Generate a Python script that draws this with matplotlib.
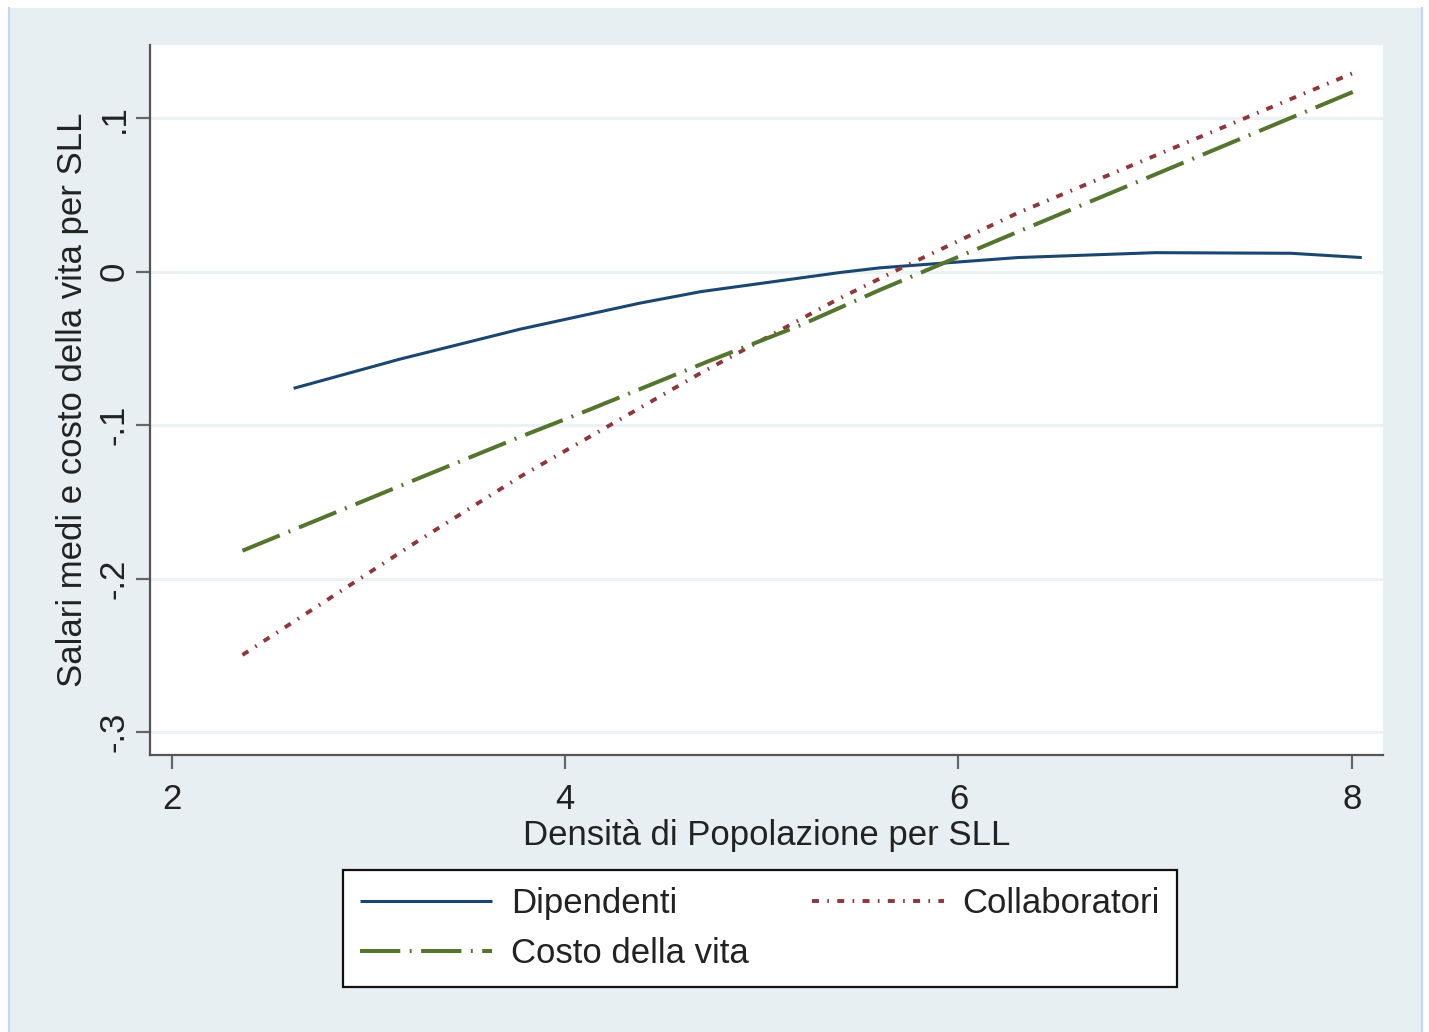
import matplotlib
matplotlib.use('Agg')
import matplotlib.pyplot as plt
from matplotlib.patches import Rectangle
from matplotlib.lines import Line2D

plt.rcParams['font.family'] = ['Liberation Sans', 'DejaVu Sans']
plt.rcParams['lines.scale_dashes'] = False

# fitted curves read along the density axis
dens_dip = [2.62, 3.16, 3.77, 4.38, 4.69, 5.40, 5.60, 6.30, 7.00, 7.69, 8.05]
dipendenti = [-0.0760, -0.0570, -0.0375, -0.0205, -0.0130, -0.0005, 0.0025,
              0.0092, 0.0124, 0.0120, 0.0092]

dens_col = [2.36, 3.26, 3.77, 4.69, 5.38, 5.72, 6.30, 8.03]
collaboratori = [-0.2497, -0.1748, -0.1337, -0.0660, -0.0184, 0.0031, 0.0382, 0.1307]

dens_cos = [2.36, 3.26, 3.77, 4.12, 4.72, 5.20, 5.60, 6.30, 8.04]
costo_vita = [-0.1818, -0.1344, -0.1077, -0.0901, -0.0588, -0.0347, -0.0119,
              0.0259, 0.1190]

x_ticks = [2, 4, 6, 8]
y_ticks = [-0.3, -0.2, -0.1, 0.0, 0.1]
y_tick_labels = ['-.3', '-.2', '-.1', '0', '.1']

W, H = 1429, 1032
BG = '#E8EFF2'
FS = 25

fig = plt.figure(figsize=(W / 100, H / 100), dpi=100, facecolor='white')

# graph region background and its thin blue side borders
fig.patches.append(Rectangle((9 / W, 0), (1421 - 9) / W, (H - 8) / H,
                             transform=fig.transFigure, facecolor=BG,
                             edgecolor='none', zorder=-5))
for xp in (8.5, 1421.5):
    fig.add_artist(Line2D([xp / W, xp / W], [0, (H - 8) / H],
                          transform=fig.transFigure, color='#C2D6F2', lw=1.6,
                          zorder=-4))

ax = fig.add_axes([150 / W, (H - 755) / H, (1383 - 150) / W, (755 - 45) / H])
ax.set_facecolor('white')
ax.set_zorder(1)

ax.plot(dens_dip, dipendenti, color='#1A476F', lw=2.2, label='Dipendenti',
        solid_capstyle='butt', solid_joinstyle='round', zorder=3)
ax.plot(dens_col, collaboratori, color='#90353B', lw=2.8, label='Collaboratori',
        dashes=(5, 6.0, 1.2, 6.0), zorder=3)
ax.plot(dens_cos, costo_vita, color='#55752F', lw=2.9, label='Costo della vita',
        dashes=(29, 6.8, 1.4, 6.8), zorder=3)

ax.set_xlim(1.89, 8.158)
ax.set_ylim(-0.3149, 0.1477)
ax.set_xticks(x_ticks)
ax.set_xticklabels([str(v) for v in x_ticks])
ax.set_yticks(y_ticks)
ax.set_yticklabels(y_tick_labels, rotation=90, va='center')

ax.grid(axis='y', color='#EAF2F3', lw=2.2, zorder=0)
ax.set_axisbelow(True)

for side in ('top', 'right'):
    ax.spines[side].set_visible(False)
for side in ('left', 'bottom'):
    ax.spines[side].set_color('#555555')
    ax.spines[side].set_linewidth(1.6)

ax.tick_params(axis='both', direction='out', length=10, width=1.6,
               color='#666666', labelsize=FS, labelcolor='#222222')
ax.tick_params(axis='x', pad=10)
ax.tick_params(axis='y', pad=4)

ax.set_xlabel('Densità di Popolazione per SLL', fontsize=FS, color='#222222',
              labelpad=2)
ax.set_ylabel('Salari medi e costo della vita per SLL', fontsize=FS,
              color='#222222', labelpad=6)

handles, labels = ax.get_legend_handles_labels()
order = [0, 2, 1]
leg = fig.legend([handles[i] for i in order], [labels[i] for i in order],
                 loc='upper left', ncol=2,
                 bbox_to_anchor=(343 / W, (H - 870) / H),
                 bbox_transform=fig.transFigure,
                 fontsize=FS, frameon=True, fancybox=False, framealpha=1,
                 edgecolor='#111111', handlelength=3.8, handletextpad=0.55,
                 columnspacing=1.8, labelspacing=0.48, borderpad=0.5,
                 borderaxespad=0)
leg.get_frame().set_linewidth(1.6)
for t in leg.get_texts():
    t.set_color('#222222')

fig.savefig('out.png', dpi=100, facecolor='white')
